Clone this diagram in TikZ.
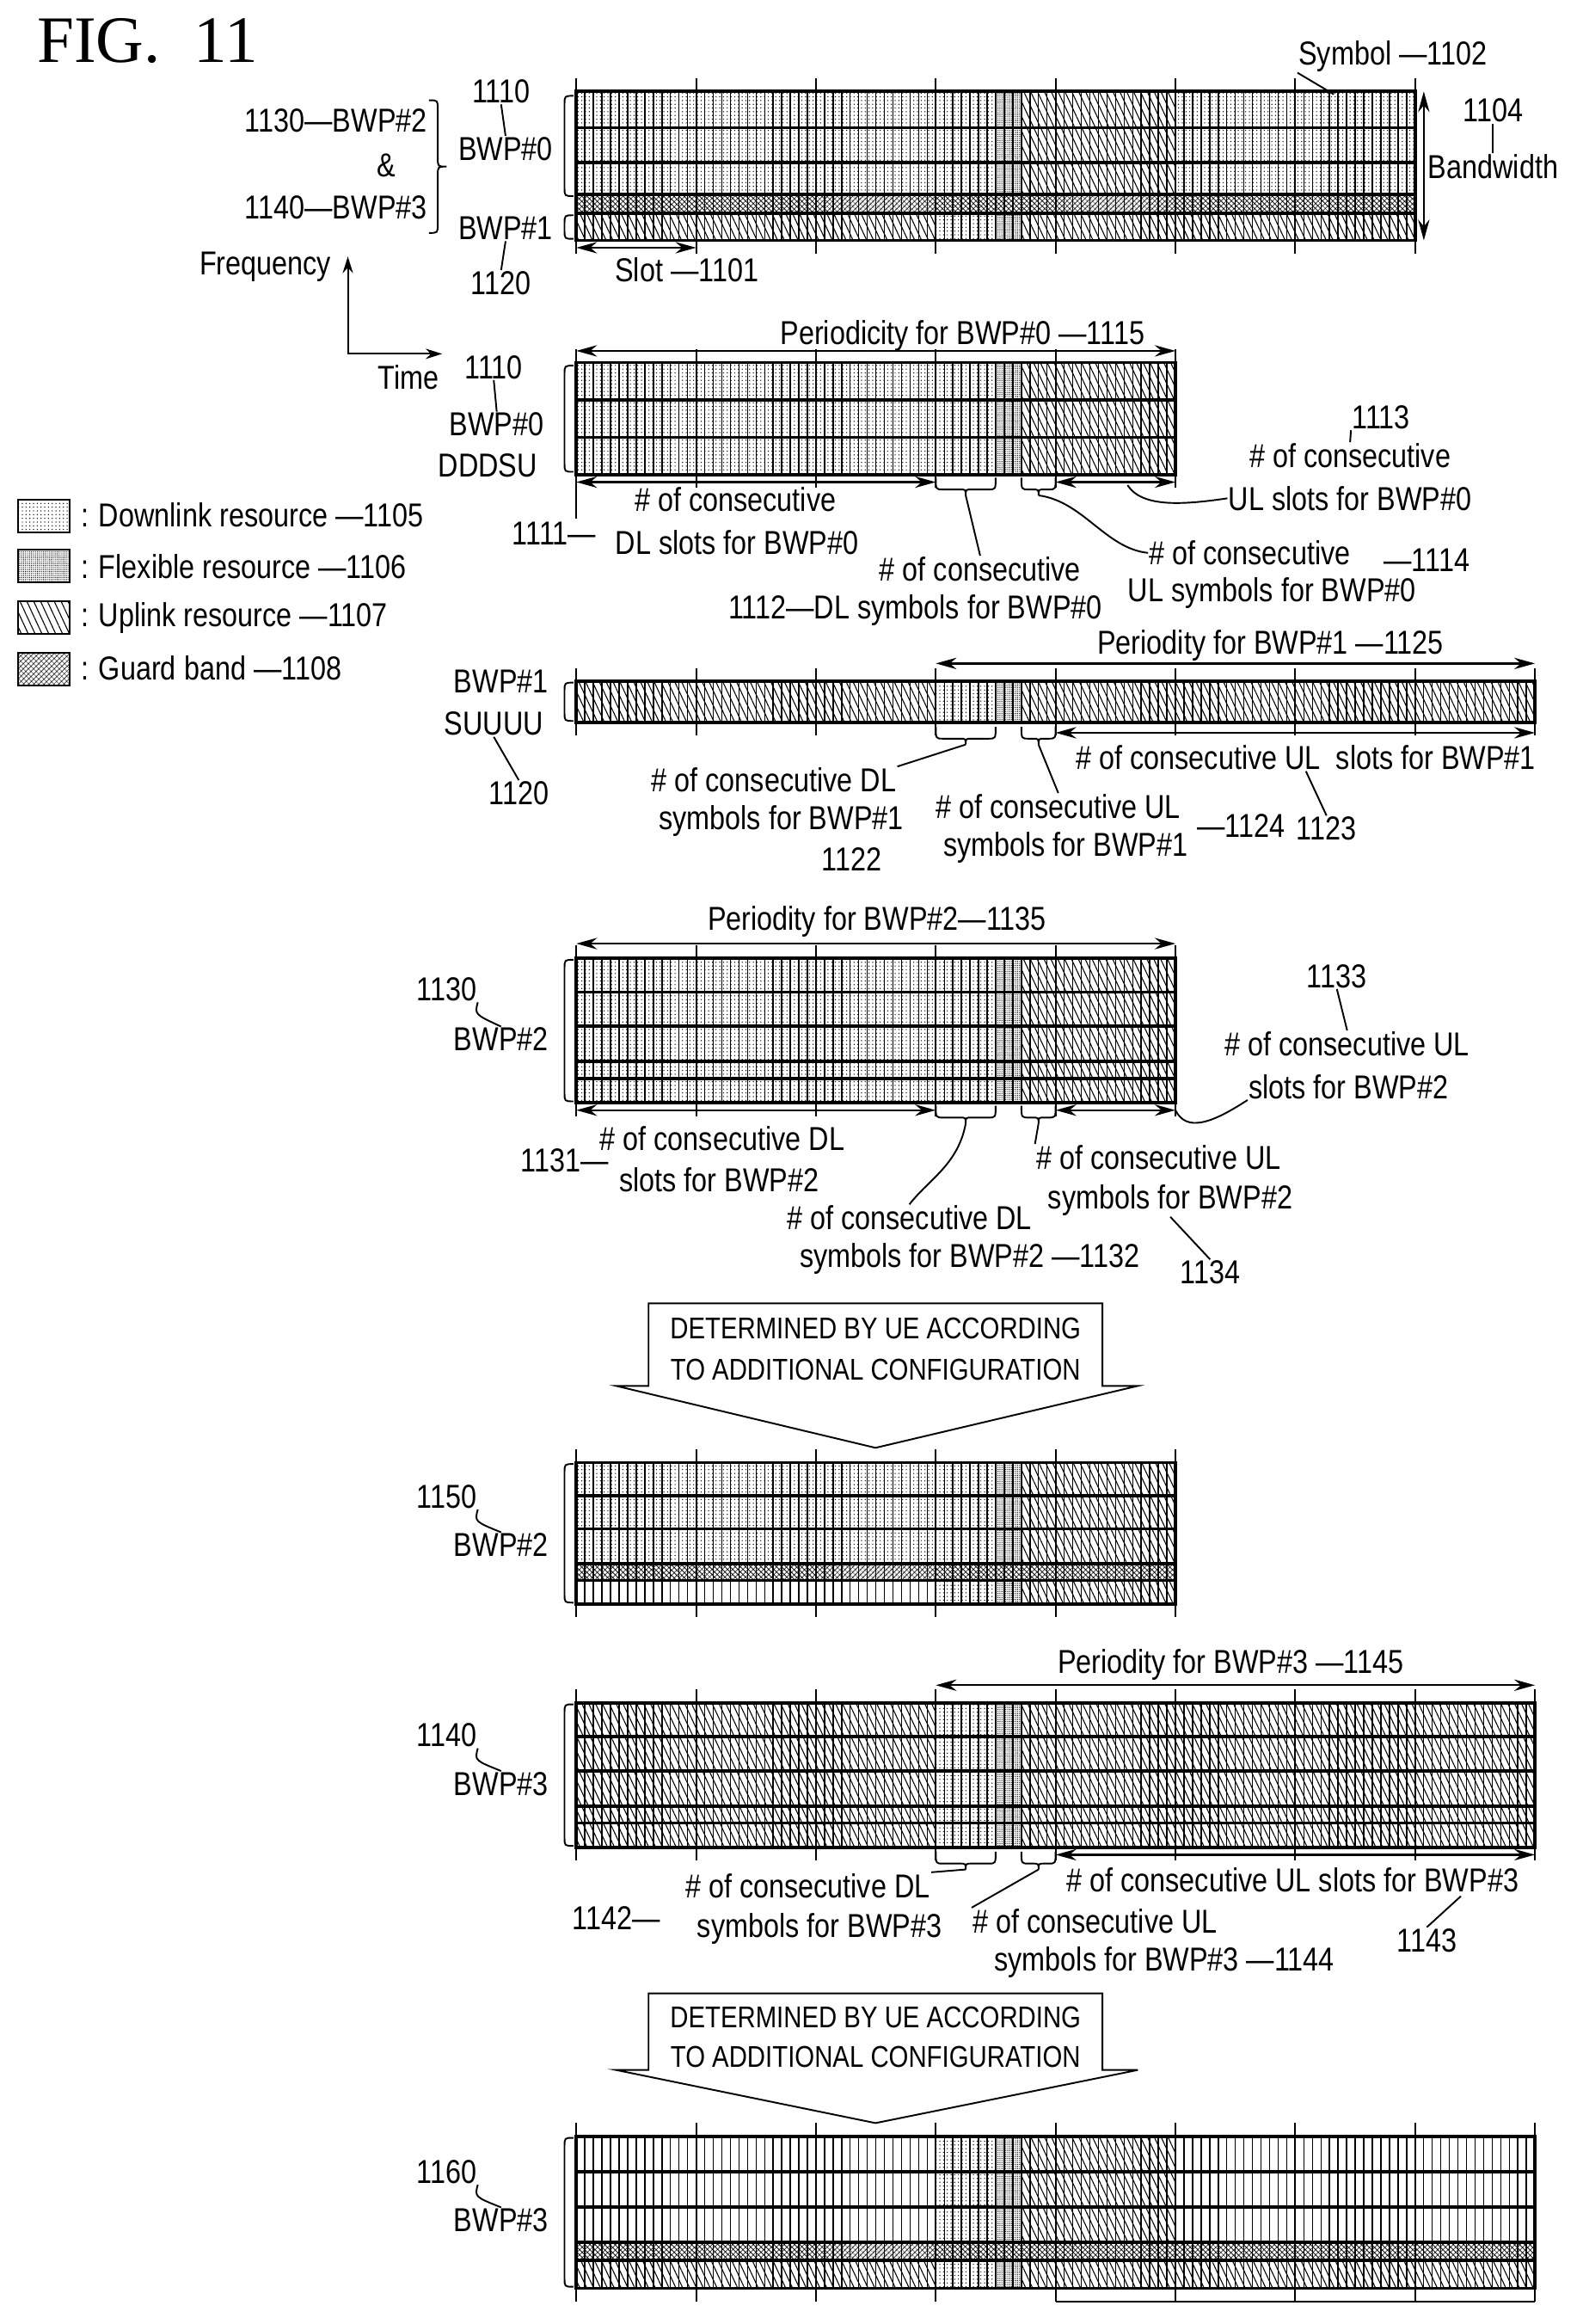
\documentclass[tikz,border=0pt]{standalone}
\usepackage{fontspec}
\setmainfont{Liberation Sans}[FakeStretch=0.84]
\newfontfamily\figfont{Liberation Serif}
\usetikzlibrary{positioning,calc,arrows.meta,patterns.meta}

\newcommand{\slotw}{81.3}
\newcommand{\symw}{5.807}

\tikzset{
  dl/.style={pattern={Dots[distance=3.6pt,radius=0.6pt]}},
  fx/.style={pattern={Dots[distance=1.9pt,radius=0.55pt]}},
  ul/.style={pattern={Lines[angle=-65,distance=6pt,line width=0.9pt]}},
  gb/.style={pattern={Hatch[angle=45,distance=4pt,line width=0.6pt]}},
  symline/.style={line width=1.2pt},
  tickline/.style={line width=1.8pt},
  rowline/.style={line width=3pt},
  lead/.style={line width=1.6pt},
  dim/.style={line width=2pt,{Stealth[length=20pt,width=11pt]}-{Stealth[length=20pt,width=11pt]}},
  txt/.style={font=\fontsize{32}{34}\selectfont, inner sep=1pt},
  boxtxt/.style={font=\fontsize{29}{31}\selectfont, inner sep=1pt}
}

% special slot: DL, flexible, UL symbols
\newcommand{\sslot}[3]{%
  \fill[dl] (#1,#2) rectangle ({#1+7*\symw},#3);
  \fill[fx] ({#1+7*\symw},#2) rectangle ({#1+10*\symw},#3);
  \fill[ul] ({#1+10*\symw},#2) rectangle ({#1+14*\symw},#3);
}
% one slot of a band, mode D / U / E / G
\newcommand{\bandslot}[5]{%
  \if#1G \fill[gb] (#2,#4) rectangle (#3,#5);\else
  \ifnum\kk=3 \sslot{#2}{#4}{#5}\else
  \ifnum\kk=4 \fill[ul] (#2,#4) rectangle (#3,#5);\else
  \if#1D \fill[dl] (#2,#4) rectangle (#3,#5);\fi
  \if#1U \fill[ul] (#2,#4) rectangle (#3,#5);\fi
  \fi\fi\fi}
\newcommand{\band}[5]{% x0, ytop, ybot, slots, mode
  \foreach \k in {1,...,#4}{%
    \pgfmathtruncatemacro\kk{mod(\k-1,5)}%
    \pgfmathsetmacro\xa{#1+(\k-1)*\slotw}%
    \pgfmathsetmacro\xb{\xa+\slotw}%
    \bandslot{#5}{\xa}{\xb}{#2}{#3}%
  }}
\newcommand{\gridlines}[5]{% x0, ytop, ybot, slots, inner rows
  \pgfmathtruncatemacro\nsm{#4*14-1}
  \foreach \s in {1,...,\nsm} \draw[symline] ({#1+\s*\symw},#2) -- ({#1+\s*\symw},#3);
  \foreach \k in {0,...,#4} \draw[tickline] ({#1+\k*\slotw},#2-9) -- ({#1+\k*\slotw},#3+9);
  \foreach \y in {#5} \draw[rowline] (#1,\y) -- ({#1+#4*\slotw},\y);
  \draw[rowline] (#1,#2) rectangle ({#1+#4*\slotw},#3);
}
\newcommand{\lbrk}[3]{\draw[lead] (#1+6,#2) .. controls (#1,#2) .. (#1,#2+6) -- (#1,#3-6) .. controls (#1,#3) .. (#1+6,#3);}
\newcommand{\rbrc}[4]{\draw[lead] (#1-6,#2) .. controls (#1,#2) .. (#1,#2+6) -- (#1,#3-6) .. controls (#1,#3) .. (#1+6,#3)
  .. controls (#1,#3) .. (#1,#3+6) -- (#1,#4-6) .. controls (#1,#4) .. (#1-6,#4);}
\newcommand{\ubr}[4]{%
  \coordinate (#4) at ({(#1+#2)/2},#3+12);
  \draw[lead] (#1,#3) .. controls (#1,#3+8) .. (#1+5,#3+8) -- ({(#1+#2)/2-4},#3+8) .. controls ({(#1+#2)/2},#3+8) .. (#4)
  .. controls ({(#1+#2)/2},#3+8) .. ({(#1+#2)/2+4},#3+8) -- (#2-5,#3+8) .. controls (#2,#3+8) .. (#2,#3);}

\begin{document}
\begin{tikzpicture}[x=0.05cm,y=-0.05cm]
\useasboundingbox (0,0) rectangle (1074,1576.3);

% Title
\node[font=\figfont\fontsize{64}{64}\selectfont] (fig) at (100,28) {FIG.\ \ 11};

% Grid 1: BWP#0 and BWP#1
\band{391}{62}{86.7}{7}{D}
\band{391}{86.7}{110.4}{7}{D}
\band{391}{110.4}{132}{7}{D}
\band{391}{132}{144.5}{7}{G}
\band{391}{144.5}{163}{7}{U}
\gridlines{391}{62}{163}{7}{86.7,110.4,132,144.5}
\node[txt] (sym) at (945,38) {Symbol —1102};
\coordinate (c1102) at (905,64);
\draw[lead] (sym.south west) -- (c1102);
\node[txt] (n1104) at (1013,75) {1104};
\node[txt] (bw) at (1013,113) {Bandwidth};
\draw[lead] (n1104.south) -- (bw.north);
\coordinate (bwt) at (966,62); \coordinate (bwb) at (966,163);
\draw[dim] (bwt) -- (bwb);
\node[txt] (n1110a) at (340,62) {1110};
\node[txt] (bwp0a) at (343,101) {BWP\#0};
\draw[lead] (n1110a.south) -- (bwp0a.north);
\node[txt] (bwp1a) at (343,155) {BWP\#1};
\node[txt] (n1120a) at (340,192) {1120};
\draw[lead] (bwp1a.south) -- (n1120a.north);
\lbrk{383}{65}{133}
\lbrk{383}{146}{162}
\node[txt] (b2a) at (228,82) {1130—BWP\#2};
\node[txt] (amp) at (262,112) {\&};
\node[txt] (b3a) at (228,141) {1140—BWP\#3};
\rbrc{297}{68}{113}{158}
\coordinate (org) at (236,240); \coordinate (fup) at (236,174); \coordinate (tri) at (300,240);
\draw[lead,{Stealth[length=16pt,width=10pt]}-{Stealth[length=16pt,width=10pt]}] (fup) -- (org) -- (tri);
\node[txt] (freq) at (180,181) {Frequency};
\node[txt] (time) at (277,256) {Time};
\coordinate (s0) at (391,168); \coordinate (s1) at (472.3,168);
\draw[dim] (s0) -- (s1);
\node[txt] (slot) at (466,183) {Slot —1101};

% Legend
\draw[lead,dl] (12,339) rectangle (47,361);
\draw[lead,fx] (12,373) rectangle (47,395);
\draw[lead,ul] (12,408) rectangle (47,430);
\draw[lead,gb] (12,443) rectangle (47,465);
\node[txt,anchor=west] (l1105) at (54,349) {: Downlink resource —1105};
\node[txt,anchor=west] (l1106) at (54,384) {: Flexible resource —1106};
\node[txt,anchor=west] (l1107) at (54,419) {: Uplink resource —1107};
\node[txt,anchor=west] (l1108) at (54,453) {: Guard band —1108};

% Grid 2: BWP#0 DDDSU
\band{391}{246}{271.3}{5}{D}
\band{391}{271.3}{296.7}{5}{D}
\band{391}{296.7}{322}{5}{D}
\gridlines{391}{246}{322}{5}{271.3,296.7}
\node[txt] (per0) at (653,228) {Periodicity for BWP\#0 —1115};
\coordinate (p0a) at (391,238); \coordinate (p0b) at (797.5,238);
\draw[dim] (p0a) -- (p0b);
\node[txt] (n1110b) at (335,249) {1110};
\node[txt] (bwp0b) at (337,288) {BWP\#0};
\node[txt] (dddsu) at (331,316) {DDDSU};
\draw[lead] (n1110b.south) -- (bwp0b.north);
\lbrk{383}{248}{320}
\coordinate (d0a) at (391,327); \coordinate (d0b) at (634.9,327);
\draw[dim] (d0a) -- (d0b);
\draw[lead] (391,322) -- (391,352);
\node[txt] (t1111a) at (499,339) {\# of consecutive};
\node[txt] (t1111b) at (500,368) {DL slots for BWP\#0};
\node[txt] (n1111) at (376,362) {1111—};
\ubr{634.9}{675.5}{324}{b1112}
\node[txt] (t1112a) at (665,386) {\# of consecutive};
\node[txt] (t1112b) at (621,414) {1112—DL symbols for BWP\#0};
\draw[lead] (b1112) -- (t1112a.north);
\ubr{693}{716.2}{324}{b1114}
\node[txt] (t1114a) at (848,375) {\# of consecutive};
\node[txt] (n1114) at (968,380) {—1114};
\node[txt] (t1114b) at (863,402) {UL symbols for BWP\#0};
\draw[lead] (b1114) .. controls (735,340) and (750,372) .. (t1114a.west);
\coordinate (u0a) at (716.2,327); \coordinate (u0b) at (797.5,327);
\draw[dim] (u0a) -- (u0b);
\node[txt] (n1113) at (937,283) {1113};
\node[txt] (t1113a) at (916,309) {\# of consecutive};
\node[txt] (t1113b) at (916,338) {UL slots for BWP\#0};
\draw[lead] (n1113.south west) -- (t1113a.north);
\coordinate (c1113) at (765,329);
\draw[lead] (c1113) .. controls (775,345) and (805,342) .. (t1113b.west);

% Grid 3: BWP#1 SUUUU
\band{391}{462}{490}{8}{U}
\gridlines{391}{462}{490}{8}{}
\node[txt] (per1) at (862,438) {Periodity for BWP\#1 —1125};
\coordinate (p1a) at (634.9,450); \coordinate (p1b) at (1041.4,450);
\draw[dim] (p1a) -- (p1b);
\node[txt] (bwp1b) at (340,462) {BWP\#1};
\node[txt] (suuuu) at (335,491) {SUUUU};
\node[txt] (n1120b) at (352,538) {1120};
\draw[lead] (suuuu.south) -- (n1120b.north);
\lbrk{383}{463}{489}
\ubr{634.9}{675.5}{493}{b1122}
\node[txt] (t1122a) at (525,529) {\# of consecutive DL};
\node[txt] (t1122b) at (530,557) {symbols for BWP\#1};
\node[txt] (n1122) at (578,583) {1122};
\draw[lead] (b1122) -- (t1122a.north east);
\ubr{693}{716.2}{493}{b1124}
\node[txt] (t1124a) at (718,547) {\# of consecutive UL};
\node[txt] (t1124b) at (723,575) {symbols for BWP\#1};
\node[txt] (n1124) at (842,560) {—1124};
\draw[lead] (b1124) -- (t1124a.north);
\coordinate (u1a) at (716.2,497); \coordinate (u1b) at (1041.4,497);
\draw[dim] (u1a) -- (u1b);
\node[txt] (t1123) at (886,514) {\# of consecutive UL\ \ slots for BWP\#1};
\node[txt] (n1123) at (900,562) {1123};
\draw[lead] (t1123.south) -- (n1123.north);

% Grid 4: BWP#2
\band{391}{650}{673}{5}{D}
\band{391}{673}{696}{5}{D}
\band{391}{696}{720}{5}{D}
\band{391}{720}{731.5}{5}{D}
\band{391}{731.5}{748}{5}{D}
\gridlines{391}{650}{748}{5}{673,696,720,731.5}
\node[txt] (per2) at (595,625) {Periodity for BWP\#2—1135};
\coordinate (p2a) at (391,640); \coordinate (p2b) at (797.5,640);
\draw[dim] (p2a) -- (p2b);
\node[txt] (n1130) at (303,671) {1130};
\node[txt] (bwp2a) at (340,705) {BWP\#2};
\draw[lead] (n1130.south east) .. controls (322,688) .. (bwp2a.north);
\lbrk{383}{651}{747}
\coordinate (d2a) at (391,753); \coordinate (d2b) at (634.9,753);
\draw[dim] (d2a) -- (d2b);
\coordinate (u2a) at (716.2,753); \coordinate (u2b) at (797.5,753);
\draw[dim] (u2a) -- (u2b);
\node[txt] (n1131) at (383,787) {1131—};
\node[txt] (t1131a) at (490,772) {\# of consecutive DL};
\node[txt] (t1131b) at (488,800) {slots for BWP\#2};
\ubr{634.9}{675.5}{750}{b1132}
\node[txt] (t1132a) at (617,826) {\# of consecutive DL};
\node[txt] (t1132b) at (658,854) {symbols for BWP\#2 —1132};
\draw[lead] (b1132) .. controls (650,790) and (630,800) .. (t1132a.north);
\ubr{693}{716.2}{750}{b1134}
\node[txt] (t1134a) at (786,785) {\# of consecutive UL};
\node[txt] (t1134b) at (794,814) {symbols for BWP\#2};
\node[txt] (n1134) at (821,863) {1134};
\draw[lead] (b1134) -- (t1134a.north west);
\draw[lead] (t1134b.south) -- (n1134.north);
\node[txt] (n1133) at (907,662) {1133};
\node[txt] (t1133a) at (914,708) {\# of consecutive UL};
\node[txt] (t1133b) at (915,737) {slots for BWP\#2};
\draw[lead] (n1133.south) -- (t1133a.north);
\draw[lead] (u2b) .. controls (805,768) and (822,762) .. (t1133b.south west);

% Arrow box 1
\draw[lead] (440,884) -- (748,884) -- (748,940) -- (772,940) -- (594,982) -- (418,940) -- (440,940) -- cycle;
\node[boxtxt] (ue1a) at (594,901) {DETERMINED BY UE ACCORDING};
\node[boxtxt] (ue1b) at (594,929) {TO ADDITIONAL CONFIGURATION};

% Grid 5: 1150 BWP#2
\band{391}{992}{1014.5}{5}{D}
\band{391}{1014.5}{1037}{5}{D}
\band{391}{1037}{1060.5}{5}{D}
\band{391}{1060.5}{1072}{5}{G}
\band{391}{1072}{1088}{5}{E}
\gridlines{391}{992}{1088}{5}{1014.5,1037,1060.5,1072}
\node[txt] (n1150) at (303,1015) {1150};
\node[txt] (bwp2b) at (340,1048) {BWP\#2};
\draw[lead] (n1150.south east) .. controls (322,1032) .. (bwp2b.north);
\lbrk{383}{993}{1087}

% Grid 6: BWP#3
\band{391}{1155}{1178}{8}{U}
\band{391}{1178}{1201}{8}{U}
\band{391}{1201}{1225}{8}{U}
\band{391}{1225}{1236.5}{8}{U}
\band{391}{1236.5}{1253}{8}{U}
\gridlines{391}{1155}{1253}{8}{1178,1201,1225,1236.5}
\node[txt] (per3) at (835,1129) {Periodity for BWP\#3 —1145};
\coordinate (p3a) at (634.9,1143); \coordinate (p3b) at (1041.4,1143);
\draw[dim] (p3a) -- (p3b);
\node[txt] (n1140) at (303,1177) {1140};
\node[txt] (bwp3a) at (340,1210) {BWP\#3};
\draw[lead] (n1140.south east) .. controls (322,1194) .. (bwp3a.north);
\lbrk{383}{1156}{1252}
\ubr{634.9}{675.5}{1256}{b1142}
\node[txt] (t1142a) at (548,1279) {\# of consecutive DL};
\node[txt] (n1142) at (418,1301) {1142—};
\node[txt] (t1142b) at (556,1308) {symbols for BWP\#3};
\draw[lead] (b1142) -- (t1142a.north east);
\ubr{693}{716.2}{1256}{b1144}
\node[txt] (t1144a) at (743,1303) {\# of consecutive UL};
\node[txt] (t1144b) at (790,1331) {symbols for BWP\#3 —1144};
\draw[lead] (b1144) -- (t1144a.north west);
\coordinate (u3a) at (716.2,1258); \coordinate (u3b) at (1041.4,1258);
\draw[dim] (u3a) -- (u3b);
\node[txt] (t1143) at (877,1275) {\# of consecutive UL slots for BWP\#3};
\node[txt] (n1143) at (968,1316) {1143};
\draw[lead] (t1143.south east) ++(-40,2) -- (n1143.north);

% Arrow box 2
\draw[lead] (440,1352) -- (748,1352) -- (748,1404) -- (772,1404) -- (594,1440) -- (418,1404) -- (440,1404) -- cycle;
\node[boxtxt] (ue2a) at (594,1368) {DETERMINED BY UE ACCORDING};
\node[boxtxt] (ue2b) at (594,1395) {TO ADDITIONAL CONFIGURATION};

% Grid 7: 1160 BWP#3
\band{391}{1449}{1473}{8}{E}
\band{391}{1473}{1497}{8}{E}
\band{391}{1497}{1521}{8}{E}
\band{391}{1521}{1533}{8}{G}
\band{391}{1533}{1552}{8}{U}
\gridlines{391}{1449}{1552}{8}{1473,1497,1521,1533}
\draw[tickline] (716.2,1561) -- (1041.4,1561);
\node[txt] (n1160) at (303,1473) {1160};
\node[txt] (bwp3b) at (340,1506) {BWP\#3};
\draw[lead] (n1160.south east) .. controls (322,1490) .. (bwp3b.north);
\lbrk{383}{1450}{1551}
\end{tikzpicture}
\end{document}
